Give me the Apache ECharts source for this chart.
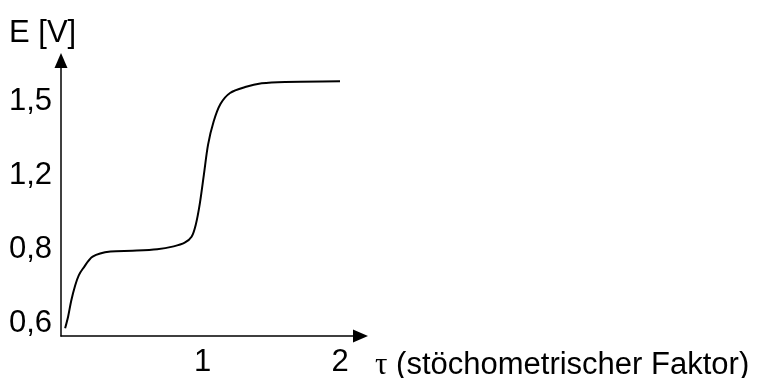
<!DOCTYPE html>
<html>
<head>
<meta charset="utf-8">
<script src="https://cdn.jsdelivr.net/npm/echarts@6/dist/echarts.min.js"></script>
<style>
  html, body { margin: 0; padding: 0; background: #fff; }
  #chart { width: 759px; height: 378px; }
</style>
</head>
<body>
<div id="chart"></div>
<script>
// stöchiometrischer Faktor tau (x) and potential level (y, in tick steps)
const tau = [0, 0.022, 0.044, 0.073, 0.1, 0.13, 0.2, 0.33, 0.49, 0.67, 0.79, 0.87, 0.92, 0.95, 0.98, 1.01, 1.04, 1.08, 1.13, 1.2, 1.31, 1.43, 1.6, 2.0];
const level = [-0.07, 0.09, 0.3, 0.51, 0.65, 0.74, 0.9, 0.97, 0.98, 1.0, 1.04, 1.09, 1.17, 1.33, 1.62, 2.02, 2.42, 2.73, 2.97, 3.12, 3.2, 3.25, 3.27, 3.28];

// y-axis labels sit at equal steps (schematic axis)
const yTickLabels = ["0,6", "0,8", "1,2", "1,5"];
const xTicks = [1, 2];

const font = "Liberation Sans, Arial, Helvetica, sans-serif";

const chart = echarts.init(document.getElementById("chart"));

const option = {
  animation: false,
  grid: { left: 61, right: 398.5, top: 60.5, bottom: 40 },
  xAxis: {
    type: "value",
    min: -0.03,
    max: 2.149,
    axisLine: {
      show: true,
      onZero: false,
      lineStyle: { color: "#000", width: 1.5 },
      symbol: ["none", "triangle"],
      symbolSize: [13, 15],
    },
    axisTick: { show: false },
    splitLine: { show: false },
    axisLabel: {
      customValues: xTicks,
      color: "#000",
      fontSize: 31,
      fontFamily: font,
      margin: 11,
    },
  },
  yAxis: {
    type: "value",
    min: -0.175,
    max: 3.56,
    axisLine: {
      show: true,
      onZero: false,
      lineStyle: { color: "#000", width: 1.5 },
      symbol: ["none", "triangle"],
      symbolSize: [13, 15],
    },
    axisTick: { show: false },
    splitLine: { show: false },
    axisLabel: {
      customValues: [0, 1, 2, 3],
      formatter: (v) => yTickLabels[Math.round(v)],
      color: "#000",
      fontSize: 31,
      fontFamily: font,
      margin: 9,
    },
  },
  series: [
    {
      type: "line",
      data: tau.map((t, i) => [t, level[i]]),
      smooth: 0.3,
      showSymbol: false,
      lineStyle: { color: "#000", width: 2 },
    },
  ],
  graphic: [
    {
      type: "text",
      left: 9,
      top: 18,
      style: { text: "E [V]", fill: "#000", font: "31px " + font },
    },
    {
      type: "text",
      left: 375,
      top: 350,
      style: {
        text: "{t|τ} (stöchometrischer Faktor)",
        fill: "#000",
        font: "31px " + font,
        rich: {
          t: { fontFamily: "Liberation Serif, DejaVu Serif, serif", fontSize: 31, fill: "#000" },
        },
      },
    },
  ],
};

chart.setOption(option);
</script>
</body>
</html>
